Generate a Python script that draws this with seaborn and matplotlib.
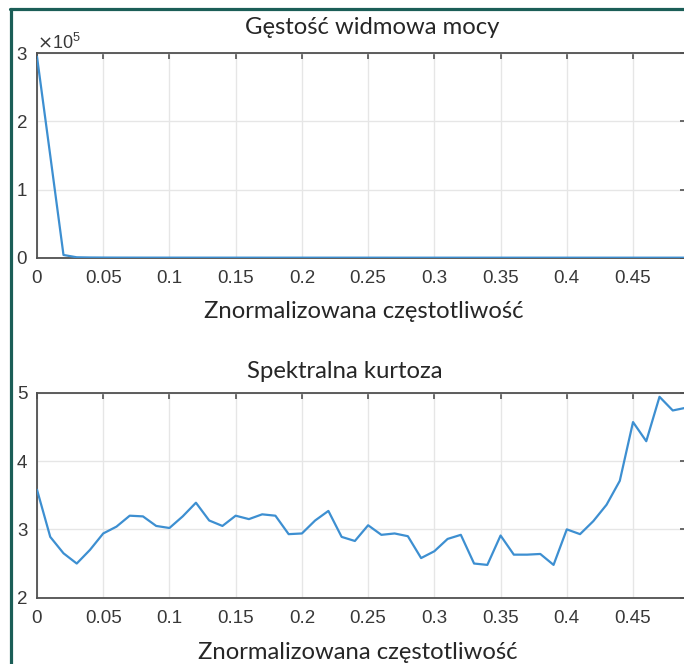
import matplotlib
matplotlib.use("Agg")
import matplotlib.pyplot as plt
import matplotlib.ticker as mticker
from matplotlib.lines import Line2D
import seaborn as sns
import pandas as pd

# ---------------- data ----------------
freq = [0.00, 0.01, 0.02, 0.03, 0.04, 0.05, 0.06, 0.07, 0.08, 0.09,
        0.10, 0.11, 0.12, 0.13, 0.14, 0.15, 0.16, 0.17, 0.18, 0.19,
        0.20, 0.21, 0.22, 0.23, 0.24, 0.25, 0.26, 0.27, 0.28, 0.29,
        0.30, 0.31, 0.32, 0.33, 0.34, 0.35, 0.36, 0.37, 0.38, 0.39,
        0.40, 0.41, 0.42, 0.43, 0.44, 0.45, 0.46, 0.47, 0.48, 0.49]

psd = [295000, 150000, 4000, 600, 300, 200, 150, 120, 100, 90,
       80, 80, 70, 70, 60, 60, 60, 50, 50, 50,
       50, 40, 40, 40, 40, 40, 40, 30, 30, 30,
       30, 30, 30, 30, 30, 30, 30, 30, 30, 30,
       30, 30, 30, 30, 30, 30, 30, 30, 30, 30]

kurtosis = [3.58, 2.89, 2.65, 2.50, 2.70, 2.94, 3.04, 3.20, 3.19, 3.05,
            3.02, 3.19, 3.39, 3.13, 3.05, 3.20, 3.15, 3.22, 3.20, 2.93,
            2.94, 3.13, 3.27, 2.89, 2.83, 3.06, 2.92, 2.94, 2.90, 2.58,
            2.68, 2.86, 2.92, 2.50, 2.48, 2.91, 2.63, 2.63, 2.64, 2.48,
            3.00, 2.93, 3.12, 3.36, 3.71, 4.57, 4.29, 4.94, 4.74, 4.78]

x_ticks = [0, 0.05, 0.1, 0.15, 0.2, 0.25, 0.3, 0.35, 0.4, 0.45]
x_tick_labels = ["0", "0.05", "0.1", "0.15", "0.2", "0.25", "0.3", "0.35", "0.4", "0.45"]
psd_ticks = [0, 100000, 200000, 300000]
kurt_ticks = [2, 3, 4, 5]

title_top = "Gęstość widmowa mocy"
title_bottom = "Spektralna kurtoza"
xlabel_text = "Znormalizowana częstotliwość"

# ---------------- style ----------------
sns.set_style("white")
plt.rcParams["font.family"] = ["Liberation Sans", "DejaVu Sans"]

LINE = "#3d8fd1"
SPINE = "#505050"
GRID = "#e6e6e6"
TICKTXT = "#383838"
TXT = "#262626"
BORDER = "#1b5e57"
LABEL_FONT = ["Lato", "DejaVu Sans"]

W, H = 684, 664
fig = plt.figure(figsize=(W / 100, H / 100), dpi=100)

def px_ax(x0, x1, ytop, ybot):
    return [x0 / W, 1 - ybot / H, (x1 - x0) / W, (ybot - ytop) / H]

ax1 = fig.add_axes(px_ax(37, 686, 53.3, 257.7))
ax2 = fig.add_axes(px_ax(37, 686, 392.7, 597.7))

df1 = pd.DataFrame({"f": freq, "v": psd})
df2 = pd.DataFrame({"f": freq, "v": kurtosis})

sns.lineplot(data=df1, x="f", y="v", ax=ax1, color=LINE, linewidth=1.6, zorder=3)
sns.lineplot(data=df2, x="f", y="v", ax=ax2, color=LINE, linewidth=1.6, zorder=3)

for ax in (ax1, ax2):
    ax.set_xlim(0, 0.49)
    ax.set_xticks(x_ticks)
    ax.set_xticklabels(x_tick_labels)
    ax.grid(True, color=GRID, linewidth=1.0, zorder=0)
    ax.set_axisbelow(True)
    for s in ax.spines.values():
        s.set_color(SPINE)
        s.set_linewidth(1.3)
        s.set_visible(True)
    ax.tick_params(direction="in", top=True, right=True, length=4.5, width=1.2,
                   color=SPINE, labelsize=13.5, labelcolor=TICKTXT)
    ax.tick_params(axis="x", pad=8.5)
    ax.tick_params(axis="y", pad=7)
    ax.set_xlabel("")
    ax.set_ylabel("")

ax1.set_ylim(0, 300000)
ax1.set_yticks(psd_ticks)
fmt = mticker.ScalarFormatter(useMathText=True)
fmt.set_powerlimits((0, 0))
ax1.yaxis.set_major_formatter(fmt)
ax1.yaxis.get_offset_text().set_fontsize(13)
ax1.yaxis.get_offset_text().set_color(TICKTXT)

ax2.set_ylim(2, 5)
ax2.set_yticks(kurt_ticks)

# titles and axis labels (left-aligned overlays as in the reference)
FS = 17.2
fig.text(245 / W, 1 - 33.5 / H, title_top, ha="left", va="baseline",
         fontsize=FS, color=TXT, family=LABEL_FONT)
fig.text(247 / W, 1 - 377.5 / H, title_bottom, ha="left", va="baseline",
         fontsize=FS, color=TXT, family=LABEL_FONT)
fig.text(204 / W, 1 - 318 / H, xlabel_text, ha="left", va="baseline",
         fontsize=FS, color=TXT, family=LABEL_FONT)
fig.text(198 / W, 1 - 659 / H, xlabel_text, ha="left", va="baseline",
         fontsize=FS, color=TXT, family=LABEL_FONT)

# frame border (top and left visible)
fig.add_artist(Line2D([10 / W, 1.0], [1 - 8.5 / H, 1 - 8.5 / H],
                      transform=fig.transFigure, color=BORDER, linewidth=2.3))
fig.add_artist(Line2D([11 / W, 11 / W], [1 - 8.5 / H, 0.0],
                      transform=fig.transFigure, color=BORDER, linewidth=2.3))

fig.savefig("out.png", dpi=100)
